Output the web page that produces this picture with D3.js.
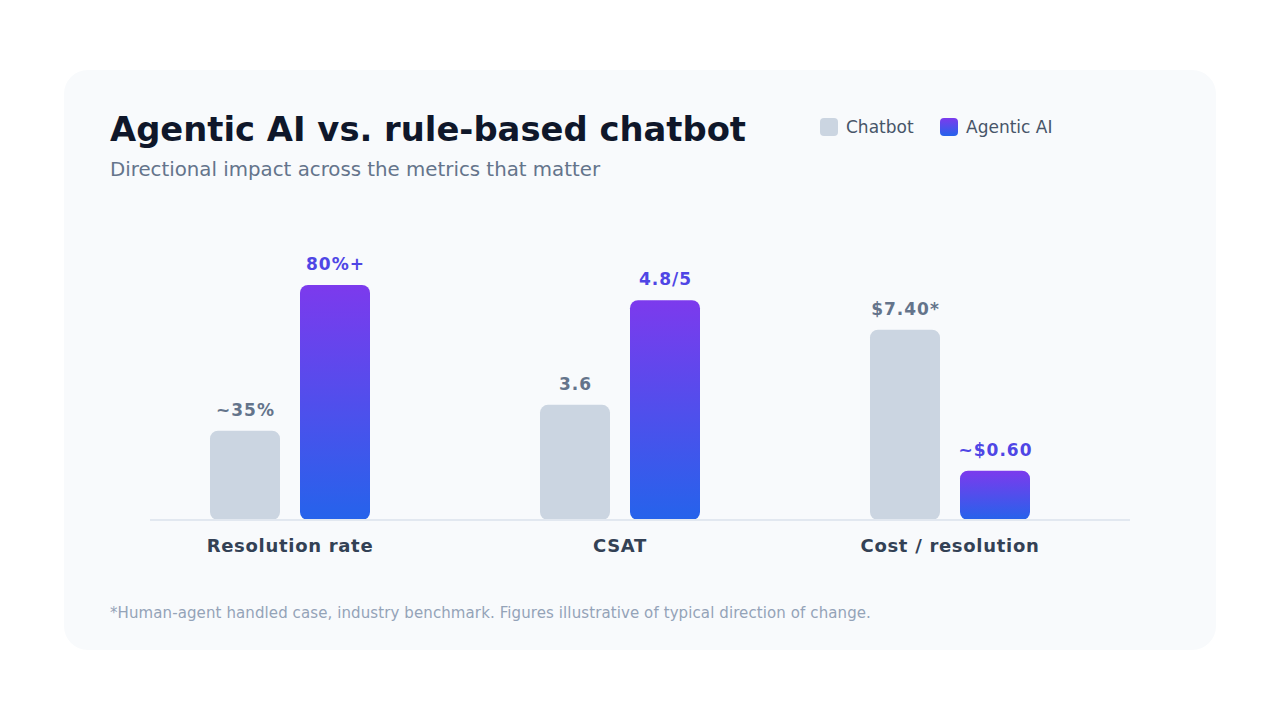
<!DOCTYPE html>
<html>
<head>
<meta charset="utf-8">
<script src="https://cdn.jsdelivr.net/npm/d3@7"></script>
<style>
  body { margin: 0; background: #ffffff; font-family: "DejaVu Sans", sans-serif; }
</style>
</head>
<body>
<div id="chart"></div>
<script>
// data
let metrics = ["Resolution rate", "CSAT", "Cost / resolution"];
let series = ["Chatbot", "Agentic AI"];
// relative bar height (index, 0-100) for each metric
let chatbotScore = [38, 49, 81];
let agenticScore = [100, 93.5, 21];
// value labels printed above bars
let chatbotLabels = ["~35%", "3.6", "$7.40*"];
let agenticLabels = ["80%+", "4.8/5", "~$0.60"];

let width = 1280, height = 720;

let svg = d3.select("#chart")
            .append("svg")
            .attr("width", width)
            .attr("height", height);

// gradient for agentic bars
let defs = svg.append("defs");
let grad = defs.append("linearGradient")
            .attr("id", "agentic-grad")
            .attr("x1", 0).attr("y1", 0).attr("x2", 0).attr("y2", 1);
grad.append("stop").attr("offset", "0%").attr("stop-color", "#7c3aed");
grad.append("stop").attr("offset", "100%").attr("stop-color", "#2563eb");

// card
svg.append("rect")
    .attr("x", 64).attr("y", 70)
    .attr("width", 1152).attr("height", 580)
    .attr("rx", 24)
    .attr("fill", "#f8fafc");

// title + subtitle
svg.append("text")
    .attr("x", 110).attr("y", 141)
    .attr("fill", "#0f172a")
    .style("font-size", "33.8px")
    .style("font-weight", "bold")
    .text("Agentic AI vs. rule-based chatbot");

svg.append("text")
    .attr("x", 110).attr("y", 176)
    .attr("fill", "#64748b")
    .style("font-size", "19.8px")
    .text("Directional impact across the metrics that matter");

// legend
let legendX = [820, 940];
series.forEach((s, i) => {
    svg.append("rect")
        .attr("x", legendX[i]).attr("y", 118)
        .attr("width", 18).attr("height", 18)
        .attr("rx", 4)
        .attr("fill", i == 0 ? "#cbd5e1" : "url(#agentic-grad)");
    svg.append("text")
        .attr("x", legendX[i] + 26).attr("y", 133)
        .attr("fill", "#475569")
        .style("font-size", "17px")
        .text(s);
});

// scales
let baseline = 520;
let x = d3.scaleBand()
            .domain(metrics)
            .range([125, 1115]);

let xInner = d3.scaleBand()
            .domain(series)
            .range([-80, 80])
            .paddingInner(2 / 9);

let y = d3.scaleLinear()
            .domain([0, 100])
            .range([baseline, baseline - 235]);

let rows = metrics.map((m, i) => [
    {metric: m, series: "Chatbot", score: chatbotScore[i], label: chatbotLabels[i]},
    {metric: m, series: "Agentic AI", score: agenticScore[i], label: agenticLabels[i]}
]).flat();

let barX = d => x(d.metric) + x.bandwidth() / 2 + xInner(d.series);

// bars
svg.selectAll(".bar")
    .data(rows)
    .enter()
    .append("rect")
    .attr("class", "bar")
    .attr("x", barX)
    .attr("y", d => y(d.score))
    .attr("width", xInner.bandwidth())
    .attr("height", d => baseline - y(d.score))
    .attr("rx", 8)
    .attr("fill", d => d.series == "Chatbot" ? "#cbd5e1" : "url(#agentic-grad)");

// value labels (letter-spacing adds a trailing gap, so nudge by half of it)
svg.selectAll(".val")
    .data(rows)
    .enter()
    .append("text")
    .attr("class", "val")
    .attr("x", d => barX(d) + xInner.bandwidth() / 2 + 0.5)
    .attr("y", d => y(d.score) - 15)
    .attr("text-anchor", "middle")
    .attr("fill", d => d.series == "Chatbot" ? "#64748b" : "#4f46e5")
    .style("font-size", "17px")
    .style("font-weight", "bold")
    .style("letter-spacing", "1px")
    .text(d => d.label);

// baseline
svg.append("line")
    .attr("x1", 150).attr("x2", 1130)
    .attr("y1", baseline).attr("y2", baseline)
    .attr("stroke", "#e2e8f0")
    .attr("stroke-width", 2);

// category labels
svg.selectAll(".cat")
    .data(metrics)
    .enter()
    .append("text")
    .attr("class", "cat")
    .attr("x", d => x(d) + x.bandwidth() / 2)
    .attr("y", 552)
    .attr("text-anchor", "middle")
    .attr("fill", "#334155")
    .style("font-size", "18px")
    .style("font-weight", "bold")
    .style("letter-spacing", "0.7px")
    .text(d => d);

// footnote
svg.append("text")
    .attr("x", 110).attr("y", 618)
    .attr("fill", "#94a3b8")
    .style("font-size", "15px")
    .style("letter-spacing", "0.1px")
    .text("*Human-agent handled case, industry benchmark. Figures illustrative of typical direction of change.");
</script>
</body>
</html>
